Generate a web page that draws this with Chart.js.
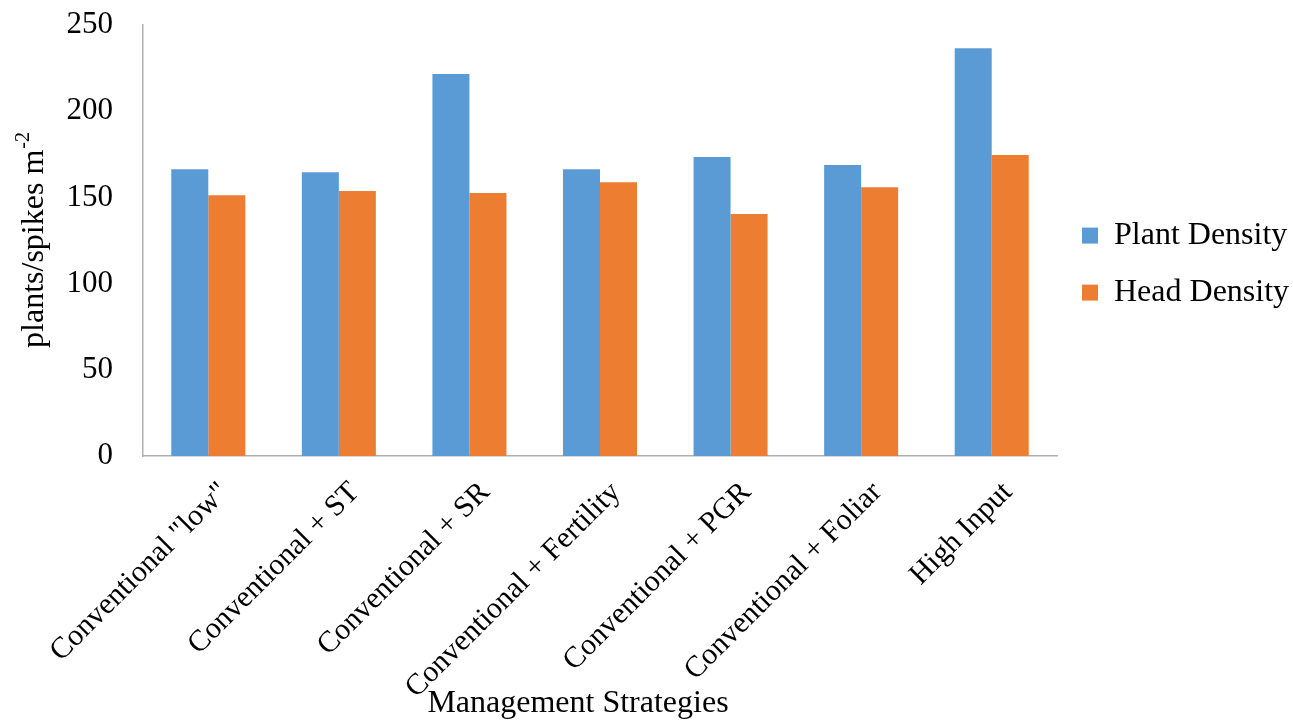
<!DOCTYPE html>
<html>
<head>
<meta charset="utf-8">
<script src="https://cdn.jsdelivr.net/npm/chart.js@4/dist/chart.umd.min.js"></script>
<style>
  html, body { margin: 0; padding: 0; background: #fff; }
</style>
</head>
<body>
<canvas id="grafico" width="1293" height="721"></canvas>
<script>
const estrategias = ['Conventional "low"', 'Conventional + ST', 'Conventional + SR', 'Conventional + Fertility', 'Conventional + PGR', 'Conventional + Foliar', 'High Input'];
const plantDensity = [166.3, 164.6, 221.6, 166.3, 173.4, 168.8, 236.5];
const headDensity = [151.2, 153.7, 152.6, 158.8, 140.4, 155.9, 174.6];
const yTicks = [0, 50, 100, 150, 200, 250];

const fonte = '"Liberation Serif", "Times New Roman", serif';

// axis titles drawn by hand: y needs a superscript, x sits a bit left of the plot centre
const titulos = {
    id: 'titulos',
    afterDraw(chart) {
        const c = chart.ctx;
        const area = chart.chartArea;
        c.save();
        c.fillStyle = '#000';
        c.textBaseline = 'middle';
        c.textAlign = 'center';
        c.font = '32px ' + fonte;
        c.fillText('Management Strategies', 578, 704);

        c.translate(35, (area.top + area.bottom) / 2);
        c.rotate(-Math.PI / 2);
        c.textAlign = 'left';
        const base = 'plants/spikes m';
        c.font = '32px ' + fonte;
        const w1 = c.measureText(base).width;
        c.font = '20px ' + fonte;
        const w2 = c.measureText('-2').width;
        const x0 = -(w1 + w2) / 2;
        c.font = '32px ' + fonte;
        c.fillText(base, x0, 0);
        c.font = '20px ' + fonte;
        c.fillText('-2', x0 + w1 + 1, -11);
        c.restore();
    }
};

new Chart(document.getElementById('grafico'), {
    type: 'bar',
    data: {
        labels: estrategias,
        datasets: [
            {
                label: 'Plant Density',
                data: plantDensity,
                backgroundColor: '#5B9BD5',
                borderWidth: 0
            },
            {
                label: 'Head Density',
                data: headDensity,
                backgroundColor: '#ED7D31',
                borderWidth: 0
            }
        ]
    },
    options: {
        responsive: false,
        animation: false,
        layout: { padding: { left: 0, right: 0, top: 25, bottom: 0 } },
        datasets: { bar: { categoryPercentage: 0.567, barPercentage: 1.0 } },
        plugins: {
            tooltip: { enabled: false },
            legend: {
                position: 'right',
                fullSize: false,
                maxWidth: 236,
                title: {
                    display: true,
                    text: ' ',
                    font: { family: fonte, size: 26 },
                    padding: 8
                },
                labels: {
                    boxWidth: 16,
                    boxHeight: 16,
                    padding: 25,
                    color: '#000',
                    font: { family: fonte, size: 32 }
                }
            }
        },
        scales: {
            x: {
                grid: { display: false, drawTicks: false },
                border: { color: '#b0b0b0', width: 1.5 },
                ticks: {
                    color: '#000',
                    font: { family: fonte, size: 30 },
                    minRotation: 45,
                    maxRotation: 45,
                    padding: 19,
                    labelOffset: 16,
                    autoSkip: false
                },
                afterFit(scale) {
                    scale.height = 265;
                    scale.paddingLeft = 0;
                    scale.paddingRight = 0;
                }
            },
            y: {
                min: 0,
                max: 250,
                grid: { display: false, drawTicks: false },
                border: { color: '#b0b0b0', width: 1.5 },
                afterBuildTicks(scale) { scale.ticks = yTicks.map(v => ({ value: v })); },
                ticks: {
                    color: '#000',
                    font: { family: fonte, size: 31 },
                    padding: 30
                },
                afterFit(scale) {
                    scale.width = 143;
                    scale.paddingTop = 0;
                    scale.paddingBottom = 0;
                }
            }
        }
    },
    plugins: [titulos]
});
</script>
</body>
</html>
